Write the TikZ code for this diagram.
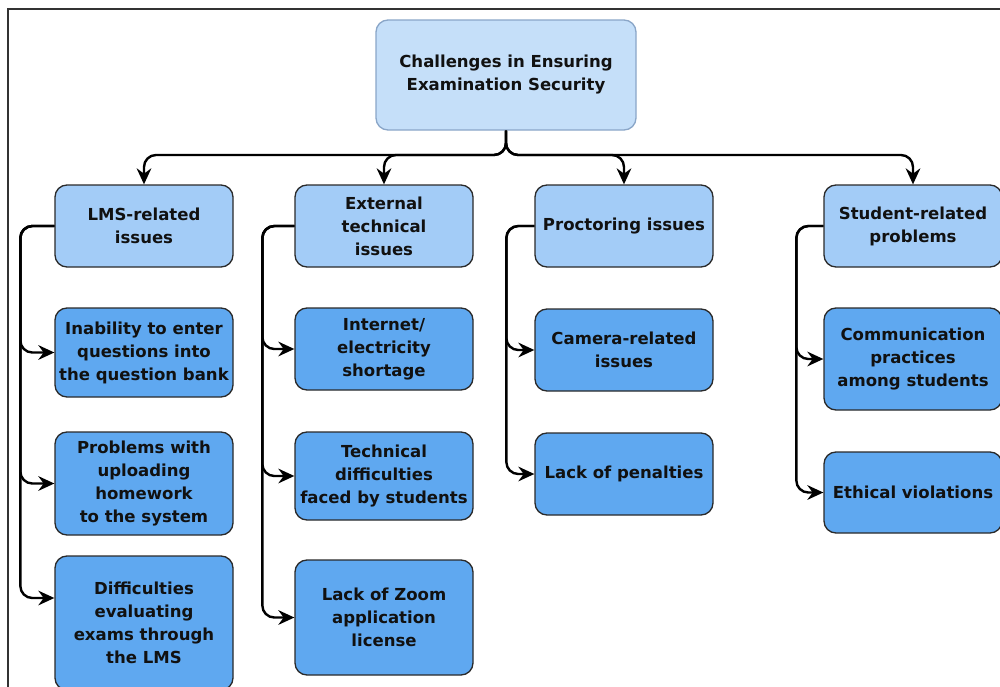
\documentclass[tikz,border=0pt]{standalone}
\usepackage{fontspec}
\setmainfont{DejaVu Sans}
\usetikzlibrary{arrows.meta}
\definecolor{rootfill}{HTML}{C5DFF9}
\definecolor{rootdraw}{HTML}{8AA6C8}
\definecolor{onefill}{HTML}{A3CCF7}
\definecolor{twofill}{HTML}{5FA8F0}
\definecolor{boxdraw}{HTML}{2A2A2A}
\definecolor{txt}{HTML}{111111}
\tikzset{
  basebox/.style={rectangle, rounded corners=9pt, line width=1pt, inner sep=0pt,
    align=center, text=txt, minimum width=133.5pt,
    font=\fontsize{12.4pt}{17.25pt}\selectfont\bfseries},
  rootbox/.style={basebox, fill=rootfill, draw=rootdraw, minimum width=195pt, minimum height=82.5pt},
  onebox/.style={basebox, fill=onefill, draw=boxdraw, minimum height=61.5pt},
  twobox/.style={basebox, fill=twofill, draw=boxdraw},
  conn/.style={line width=1.8pt, black, rounded corners=9pt, -{Stealth[length=12pt,width=11pt,inset=4pt]}},
  framec/.style={line width=1.5pt, draw=black!80}
}
\begin{document}
\begin{tikzpicture}[x=0.75pt,y=-0.75pt]
\useasboundingbox (0,0) rectangle (1000,686);
\fill[white] (0,0) rectangle (1000,686);
\draw[framec] (8,690) -- (8,9) -- (1002,9);

\node[rootbox] (root) at (506,75) {Challenges in Ensuring\\Examination Security};

\node[onebox] (lms) at (144,226) {LMS-related\\issues};
\node[onebox] (ext) at (384,226) {External\\technical\\issues};
\node[onebox] (proc) at (624,226) {Proctoring issues};
\node[onebox] (stud) at (913,226) {Student-related\\problems};

\node[twobox, minimum height=66.75pt] (inab) at (144,352.5) {Inability to enter\\questions into\\the question bank};
\node[twobox, minimum height=77.25pt] (upl) at (144,483.5) {Problems with\\uploading\\homework\\to the system};
\node[twobox, minimum height=100.5pt] (diff) at (144,623) {Difficulties\\evaluating\\exams through\\the LMS};

\node[twobox, minimum height=61.5pt] (inet) at (384,349) {Internet/\\electricity\\shortage};
\node[twobox, minimum height=66pt] (tech) at (384,476) {Technical\\difficulties\\faced by students};
\node[twobox, minimum height=86.25pt] (zoom) at (384,617.5) {Lack of Zoom\\application\\license};

\node[twobox, minimum height=61.5pt] (cam) at (624,350) {Camera-related\\issues};
\node[twobox, minimum height=61.5pt] (pen) at (624,474) {Lack of penalties};

\node[twobox, minimum height=76.5pt] (comm) at (913,359) {Communication\\practices\\among students};
\node[twobox, minimum height=60.75pt] (eth) at (913,492.5) {Ethical violations};

% top bus
\foreach \t in {lms,ext,proc,stud}{
  \draw[conn] (root.south) -- (root.south |- 0,155) -| (\t.north);
}

% side connectors
\draw[conn] (lms.west) -- ++(-34,0) |- (inab.west);
\draw[conn] (lms.west) -- ++(-34,0) |- (upl.west);
\draw[conn] (lms.west) -- ++(-34,0) |- ([yshift=18.75pt]diff.west);

\draw[conn] (ext.west) -- ++(-32,0) |- (inet.west);
\draw[conn] (ext.west) -- ++(-32,0) |- (tech.west);
\draw[conn] (ext.west) -- ++(-32,0) |- (zoom.west);

\draw[conn] (proc.west) -- ++(-28,0) |- (cam.west);
\draw[conn] (proc.west) -- ++(-28,0) |- (pen.west);

\draw[conn] (stud.west) -- ++(-27,0) |- (comm.west);
\draw[conn] (stud.west) -- ++(-27,0) |- (eth.west);
\end{tikzpicture}
\end{document}
